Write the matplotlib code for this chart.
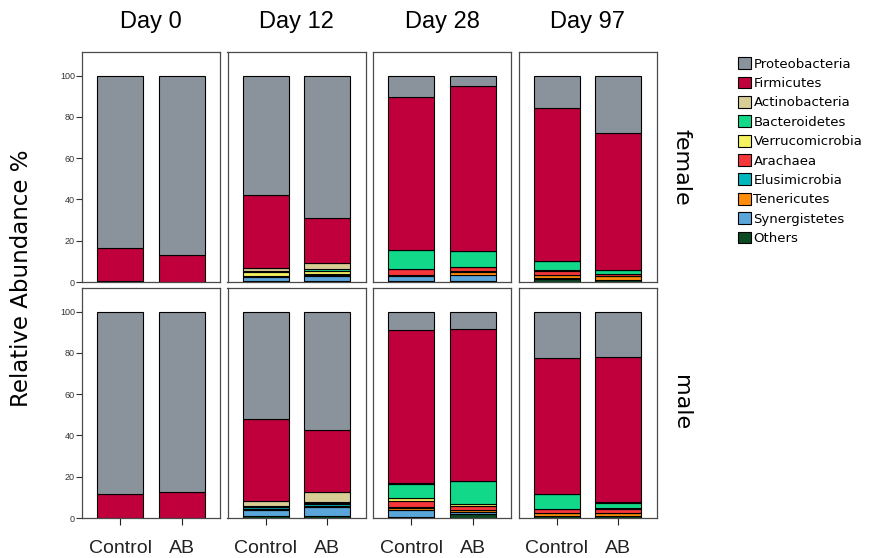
import matplotlib
matplotlib.use('Agg')
import matplotlib.pyplot as plt
from matplotlib.patches import Patch
import numpy as np

plt.rcParams['font.family'] = ['Liberation Sans', 'DejaVu Sans']

days = ['Day 0', 'Day 12', 'Day 28', 'Day 97']
groups = ['Control', 'AB']
sexes = ['female', 'male']

# bottom -> top stacking order
phyla = ['Others', 'Synergistetes', 'Tenericutes', 'Elusimicrobia', 'Arachaea',
         'Verrucomicrobia', 'Bacteroidetes', 'Actinobacteria', 'Firmicutes',
         'Proteobacteria']
colors = ['#0b4a22', '#5aa6da', '#ff8c0a', '#00b7bd', '#f5363a',
          '#f4f25e', '#12d98a', '#d7cd95', '#c0003c', '#8a939c']

# values per bar: female D0 C, D0 AB, D12 C, D12 AB, D28 C, D28 AB, D97 C, D97 AB,
# then male in the same order (relative abundance %)
others          = [0.3, 0.2, 0.3, 0.3, 0.7, 0.7, 1.6, 0.8,   0.2, 0.2, 1.0, 1.0, 0.4, 1.8, 1.1, 1.0]
synergistetes   = [0.0, 0.0, 2.2, 2.8, 2.0, 2.7, 0.1, 0.1,   0.0, 0.0, 3.0, 4.4, 3.5, 1.1, 0.1, 0.1]
tenericutes     = [0.0, 0.0, 0.2, 0.2, 0.5, 1.5, 1.5, 2.0,   0.0, 0.0, 0.5, 0.6, 0.8, 0.8, 1.3, 1.4]
elusimicrobia   = [0.0, 0.0, 0.2, 0.2, 0.3, 0.3, 0.1, 0.1,   0.0, 0.0, 0.6, 0.8, 0.7, 0.3, 0.1, 0.1]
arachaea        = [0.0, 0.0, 0.2, 0.2, 2.6, 2.0, 2.0, 1.0,   0.0, 0.0, 0.2, 0.3, 2.9, 1.8, 1.6, 1.9]
verrucomicrobia = [0.0, 0.0, 1.8, 1.6, 0.3, 0.3, 0.3, 0.1,   0.0, 0.0, 0.2, 0.3, 1.3, 0.8, 0.2, 0.2]
bacteroidetes   = [0.0, 0.0, 0.3, 0.8, 9.0, 7.5, 4.5, 1.7,   0.0, 0.0, 0.5, 0.3, 7.1, 11.1, 7.0, 2.4]
actinobacteria  = [0.0, 0.0, 1.6, 3.2, 0.3, 0.2, 0.2, 0.1,   0.0, 0.0, 2.0, 4.7, 0.3, 0.3, 0.2, 0.7]
firmicutes      = [16.0, 12.8, 35.2, 21.7, 73.8, 79.8, 74.2, 66.1,
                   11.5, 12.6, 40.0, 30.3, 74.0, 73.5, 66.0, 70.4]
proteobacteria  = [83.7, 87.0, 58.0, 69.0, 10.5, 5.0, 15.5, 28.0,
                   88.3, 87.2, 52.0, 57.3, 9.0, 8.5, 22.4, 21.8]

series = [others, synergistetes, tenericutes, elusimicrobia, arachaea,
          verrucomicrobia, bacteroidetes, actinobacteria, firmicutes, proteobacteria]

W, H = 871, 558
fig = plt.figure(figsize=(W / 100, H / 100), dpi=100)

left0, pw, stride = 82, 138, 145.5
row_top = [52, 288]
ph = 230

x = np.arange(len(groups))
for r in range(2):
    for c in range(4):
        l = left0 + c * stride
        ax = fig.add_axes([l / W, 1 - (row_top[r] + ph) / H, pw / W, ph / H])
        i0 = r * 8 + c * 2
        bottom = np.zeros(2)
        for vals, col in zip(series, colors):
            v = np.array(vals[i0:i0 + 2])
            ax.bar(x, v, width=0.75, bottom=bottom, color=col,
                   edgecolor='black', linewidth=0.8)
            bottom += v
        ax.set_xlim(-0.62, 1.62)
        ax.set_ylim(0, 111.5)
        for sp in ax.spines.values():
            sp.set_color('#4a4a4a')
            sp.set_linewidth(0.9)
        if c == 0:
            ax.set_yticks([0, 20, 40, 60, 80, 100])
            ax.tick_params(axis='y', labelsize=6.5, length=4, width=0.8,
                           colors='#333333', pad=1)
        else:
            ax.set_yticks([])
        if r == 1:
            ax.set_xticks(x)
            ax.set_xticklabels(groups)
            ax.tick_params(axis='x', labelsize=14, length=5, width=0.8,
                           pad=11, colors='#222222')
        else:
            ax.set_xticks([])
        if r == 0:
            ax.set_title(days[c], fontsize=17, pad=17)
        if c == 3:
            ax.text(1.18, 0.5, sexes[r], transform=ax.transAxes, rotation=-90,
                    fontsize=16, va='center', ha='center',
                    family=['DejaVu Sans'])

fig.text(22 / W, 1 - 278 / H, 'Relative Abundance %', rotation=90,
         fontsize=16.5, va='center', ha='center', family=['DejaVu Sans'])

handles = [Patch(facecolor=col, edgecolor='black', linewidth=0.8)
           for col in colors[::-1]]
fig.legend(handles, phyla[::-1], loc='upper left',
           bbox_to_anchor=(733 / W, 1 - 52 / H), frameon=False,
           prop={'family': ['DejaVu Sans'], 'size': 9.5},
           handlelength=1.0, handleheight=1.0, handletextpad=0.15,
           labelspacing=0.45, borderaxespad=0)

fig.savefig('out.png', dpi=100)
